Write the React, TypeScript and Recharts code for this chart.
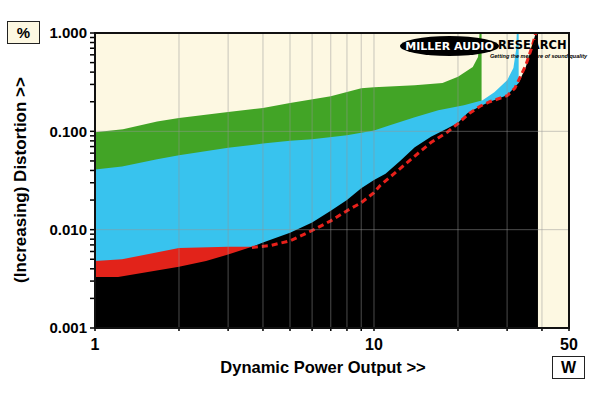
import React from 'react'
import { ComposedChart, Area, Line, XAxis, YAxis, CartesianGrid } from 'recharts'

// power (W) and distortion (%)
const GREEN_W = [1, 1.26, 1.67, 2, 3, 4, 5, 7, 9, 10, 14, 17.6, 20, 22.6, 23.6, 23.9, 24.3]
const GREEN_V = [0.098, 0.105, 0.126, 0.137, 0.157, 0.173, 0.194, 0.228, 0.275, 0.28, 0.295, 0.31, 0.358, 0.45, 0.57, 1.0, 1.0]

const CYAN_W = [1, 1.25, 1.67, 2, 3, 4, 5, 6, 8, 10, 11.4, 14, 17, 21, 24.5, 27, 30, 31.6, 32.3, 32.5, 33]
const CYAN_V = [0.041, 0.044, 0.052, 0.057, 0.068, 0.075, 0.08, 0.083, 0.091, 0.102, 0.115, 0.139, 0.164, 0.184, 0.207, 0.25, 0.33, 0.44, 0.67, 1.0, 1.0]

const RED_W = [1, 1.25, 2, 3, 3.7, 4]
const RED_V = [0.0048, 0.005, 0.0065, 0.0067, 0.0067, 0.0068]

const BLACK_W = [1, 1.21, 2, 2.5, 3, 3.7, 4, 5, 6, 7, 8, 9, 10, 11, 12.4, 14, 16, 18.3, 20, 21.6, 24, 26, 30, 33, 35, 36.5, 38, 38.7]
const BLACK_V = [0.0033, 0.0033, 0.0042, 0.0048, 0.0056, 0.0068, 0.0074, 0.0093, 0.0118, 0.0156, 0.02, 0.0263, 0.032, 0.037, 0.05, 0.069, 0.088, 0.107, 0.122, 0.153, 0.18, 0.2, 0.233, 0.31, 0.45, 0.67, 1.0, 1.0]

const DASH_W = [3.65, 4.25, 5, 6, 7, 8, 9, 10, 10.5, 13.8, 16, 18.3, 20, 22, 24, 26, 30, 32, 35, 37, 38]
const DASH_V = [0.0066, 0.0069, 0.0077, 0.0098, 0.0123, 0.0156, 0.0188, 0.0238, 0.028, 0.054, 0.077, 0.098, 0.12, 0.153, 0.18, 0.2, 0.23, 0.275, 0.47, 0.75, 1.0]

const X_TICKS = [1, 2, 3, 4, 5, 6, 7, 8, 9, 10, 20, 30, 40, 50]
const X_LABELS = [1, 10, 50]
const Y_TICKS = [
  0.001, 0.002, 0.003, 0.004, 0.005, 0.006, 0.007, 0.008, 0.009,
  0.01, 0.02, 0.03, 0.04, 0.05, 0.06, 0.07, 0.08, 0.09,
  0.1, 0.2, 0.3, 0.4, 0.5, 0.6, 0.7, 0.8, 0.9, 1,
]
const Y_LABELS = [0.001, 0.01, 0.1, 1]

const pts = (w: number[], v: number[]) => w.map((x, i) => ({ w: x, v: v[i] }))

const FONT = "'Liberation Sans', Arial, sans-serif"
const LOGO_FONT = "'DejaVu Sans', 'Liberation Sans', sans-serif"
const CREAM = '#fdf8e2'

const XTick = (props: any) => {
  const { x, y, payload } = props
  if (!X_LABELS.includes(payload.value)) return null
  return (
    <text x={x} y={y} dy="0.72em" textAnchor="middle" fontFamily={FONT} fontWeight="bold" fontSize={16} fill="#000">
      {payload.value}
    </text>
  )
}

const YTick = (props: any) => {
  const { x, y, payload } = props
  if (!Y_LABELS.includes(payload.value)) return null
  return (
    <text x={x} y={y} dy="0.36em" textAnchor="end" fontFamily={FONT} fontWeight="bold" fontSize={15} fill="#000">
      {payload.value.toFixed(3)}
    </text>
  )
}

const box: React.CSSProperties = {
  position: 'absolute',
  border: '1.5px solid #222',
  background: CREAM,
  boxSizing: 'border-box',
  display: 'flex',
  alignItems: 'center',
  justifyContent: 'center',
  fontFamily: FONT,
  fontWeight: 'bold',
  fontSize: 15,
}

export default function App() {
  return (
    <div style={{ position: 'relative', width: 600, height: 393, background: '#fff', fontFamily: FONT }}>
      <style>{'body{margin:0}'}</style>
      <ComposedChart width={600} height={393} margin={{ top: 33, right: 31, bottom: 0, left: 0 }}>
        <CartesianGrid fill={CREAM} horizontal={false} vertical={false} />
        <XAxis
          type="number"
          dataKey="w"
          scale="log"
          domain={[1, 50]}
          ticks={X_TICKS}
          interval={0}
          allowDataOverflow
          axisLine={false}
          tickLine={{ stroke: '#000', strokeWidth: 1.5 }}
          tickSize={3}
          tickMargin={7}
          tick={<XTick />}
          height={65}
        />
        <YAxis
          type="number"
          dataKey="v"
          scale="log"
          domain={[0.001, 1]}
          ticks={Y_TICKS}
          interval={0}
          allowDataOverflow
          axisLine={false}
          tickLine={{ stroke: '#000', strokeWidth: 1.5 }}
          tickSize={5}
          tickMargin={3}
          tick={<YTick />}
          width={95}
        />
        <Area data={pts(GREEN_W, GREEN_V)} dataKey="v" type="linear" baseValue={0.001} fill="#42a426" fillOpacity={1} stroke="none" isAnimationActive={false} />
        <Area data={pts(CYAN_W, CYAN_V)} dataKey="v" type="linear" baseValue={0.001} fill="#38c3ee" fillOpacity={1} stroke="none" isAnimationActive={false} />
        <Area data={pts(RED_W, RED_V)} dataKey="v" type="linear" baseValue={0.001} fill="#e2231a" fillOpacity={1} stroke="none" isAnimationActive={false} />
        <Area data={pts(BLACK_W, BLACK_V)} dataKey="v" type="linear" baseValue={0.001} fill="#000" fillOpacity={1} stroke="none" isAnimationActive={false} />
        <CartesianGrid
          stroke="rgba(150,150,150,0.5)"
          horizontalValues={Y_LABELS}
          verticalValues={X_TICKS}
          zIndex={500}
        />
        <Line data={pts(DASH_W, DASH_V)} dataKey="v" type="linear" stroke="#e8201a" strokeWidth={3} strokeDasharray="6 4" dot={false} isAnimationActive={false} />
      </ComposedChart>

      {/* plot frame */}
      <div style={{ position: 'absolute', left: 94, top: 32, width: 476, height: 297, border: '2px solid #111', boxSizing: 'border-box', pointerEvents: 'none' }} />

      <div style={{ ...box, left: 7, top: 21, width: 33, height: 23 }}>%</div>
      <div style={{ ...box, left: 552, top: 356, width: 33, height: 23, background: '#fff', fontSize: 16 }}>W</div>

      <div style={{ position: 'absolute', left: 323, top: 367, transform: 'translate(-50%,-50%)', whiteSpace: 'nowrap', fontWeight: 'bold', fontSize: 16.5 }}>
        Dynamic Power Output &gt;&gt;
      </div>
      <div style={{ position: 'absolute', left: 21, top: 180, transform: 'translate(-50%,-50%) rotate(-90deg)', whiteSpace: 'nowrap', fontWeight: 'bold', fontSize: 17 }}>
        (Increasing) Distortion &gt;&gt;
      </div>

      {/* logo */}
      <div style={{ position: 'absolute', left: 400, top: 36, width: 99, height: 20, borderRadius: '50%', background: '#000', color: '#fff', display: 'flex', alignItems: 'center', justifyContent: 'center', fontFamily: LOGO_FONT, fontWeight: 'bold', fontSize: 11, whiteSpace: 'nowrap' }}>
        MILLER AUDIO
      </div>
      <div style={{ position: 'absolute', left: 498, top: 38, fontFamily: LOGO_FONT, fontWeight: 'bold', fontSize: 11.5, lineHeight: '14px', whiteSpace: 'nowrap', color: '#000' }}>RESEARCH</div>
      <div style={{ position: 'absolute', left: 490, top: 53, fontWeight: 'bold', fontStyle: 'italic', fontSize: 5.5, whiteSpace: 'nowrap', color: '#000' }}>
        Getting the measure of sound quality
      </div>
    </div>
  )
}
